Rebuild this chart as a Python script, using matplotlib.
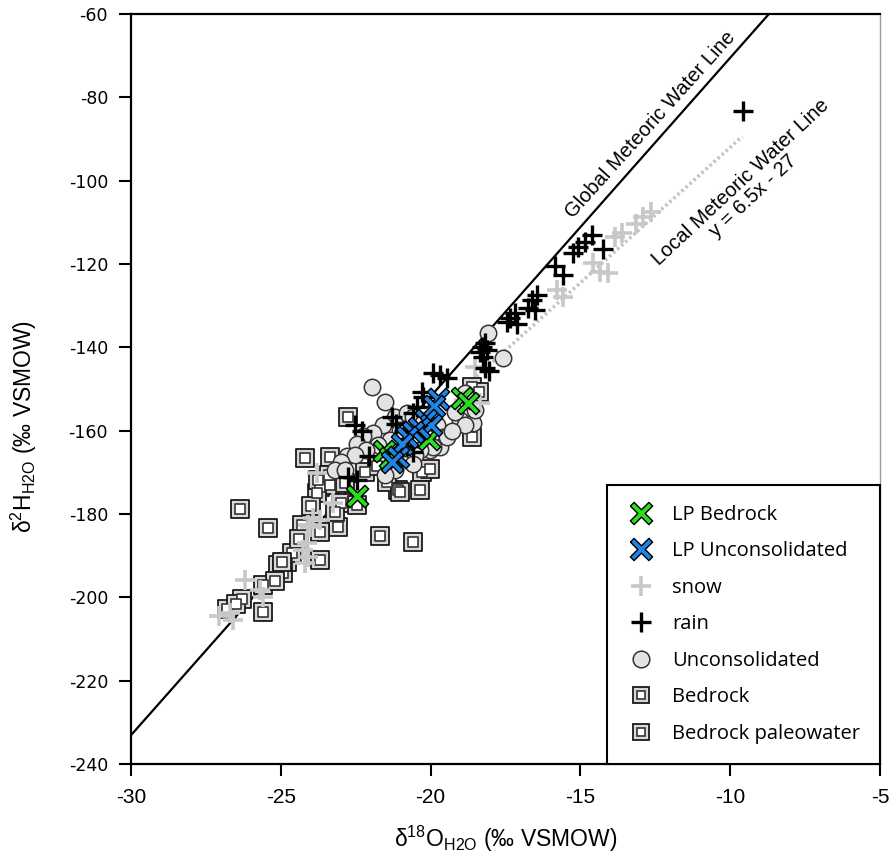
import numpy as np
import matplotlib
matplotlib.use("Agg")
import matplotlib.pyplot as plt
from matplotlib.lines import Line2D
from matplotlib.legend_handler import HandlerTuple

# isotope data, d18O (x) and d2H (y), per-mil VSMOW
lp_bedrock_x = [-22.45, -21.55, -21.35, -20.05, -18.95, -18.75]
lp_bedrock_y = [-175.8, -165.0, -166.5, -162.0, -152.2, -153.4]

lp_unconsol_x = [-19.75, -19.9, -20.15, -20.0, -20.4, -20.6, -20.8, -20.95, -21.1, -21.3]
lp_unconsol_y = [-152.5, -154.2, -157.4, -158.6, -159.3, -160.4, -161.6, -163.2, -166.3, -167.5]

snow_x = [-12.64, -12.91, -13.15, -13.6, -13.85, -14.58, -14.35, -14.08, -15.58, -15.78,
          -18.52, -18.9, -18.35, -23.79, -23.26, -24.03, -23.93, -24.09, -23.69, -24.13,
          -24.26, -24.09, -24.19, -26.2, -25.69, -25.6, -26.7, -26.6, -27.05]
snow_y = [-107.5, -108.7, -110.3, -112.5, -113.5, -119.8, -121.9, -122.2, -127.9, -126.2,
          -144.7, -152.6, -153.3, -170.2, -177.4, -183.1, -180.9, -182.6, -181.4, -187.0,
          -188.6, -190.3, -191.7, -195.8, -198.2, -199.9, -203.7, -205.4, -204.6]

rain_x = [-9.57, -14.61, -14.85, -15.08, -15.25, -14.25, -15.58, -15.85,
          -16.45, -16.62, -16.75, -16.5, -17.18, -17.35, -17.45, -17.1,
          -18.18, -18.28, -18.12, -18.35, -18.25, -18.18, -18.05,
          -19.92, -19.69, -19.45, -20.25, -20.45, -20.59, -20.3,
          -21.29, -22.52, -22.3, -22.05, -22.76, -22.45, -20.8, -20.6, -20.9, -21.15]
rain_y = [-83.3, -113.0, -114.7, -115.9, -117.4, -116.4, -122.6, -120.5,
          -127.4, -128.6, -130.6, -131.0, -131.8, -133.0, -133.9, -134.4,
          -139.0, -140.0, -140.7, -141.2, -142.4, -145.0, -145.8,
          -146.2, -146.6, -147.4, -151.9, -154.3, -155.8, -150.8,
          -156.7, -158.6, -160.0, -166.0, -171.1, -171.8, -163.8, -165.2, -160.2, -158.5]

unconsol_x = [-21.96, -21.52, -21.19, -21.6, -21.92, -22.26, -22.46, -22.8, -20.79, -20.59,
              -20.25, -19.79, -19.59, -19.69, -20.02, -18.58, -19.45, -19.02, -19.92, -18.08,
              -17.58, -18.85, -18.52, -19.19, -18.85, -21.02, -21.36, -21.76, -22.16, -22.52,
              -23.0, -23.2, -22.86, -20.85, -20.35, -20.52, -21.19, -21.52, -19.3, -20.6]
unconsol_y = [-149.5, -153.1, -156.7, -158.6, -160.5, -161.4, -163.3, -166.2, -155.8, -156.7,
              -158.2, -158.6, -161.5, -163.9, -164.6, -158.2, -161.5, -157.4, -163.9, -136.6,
              -142.6, -151.0, -155.0, -155.5, -158.6, -159.8, -162.2, -163.4, -164.6, -165.8,
              -167.5, -169.4, -169.4, -164.1, -164.6, -165.8, -169.4, -170.6, -160.0, -168.0]

bedrock_x = [-22.76, -24.19, -23.36, -20.29, -21.09, -20.02, -18.62, -18.4, -18.62,
             -23.69, -23.36, -23.8, -23.0, -23.09, -24.29, -23.69, -24.8, -25.09, -24.93,
             -24.63, -23.69, -23.76, -23.4, -22.86, -22.46, -21.45, -21.02, -20.35,
             -22.2, -21.8, -23.2, -24.4, -24.0]
bedrock_y = [-156.7, -166.6, -166.3, -169.9, -174.2, -169.3, -149.5, -150.8, -161.5,
             -173.5, -173.0, -175.0, -177.3, -183.1, -182.6, -184.3, -191.5, -192.2, -194.1,
             -189.4, -191.0, -171.8, -170.6, -172.6, -177.8, -172.3, -174.7, -174.2,
             -170.0, -168.4, -179.5, -186.0, -178.0]

paleo_x = [-26.36, -25.43, -21.69, -20.59, -24.96, -25.59, -26.3, -26.8, -25.6, -26.5, -25.2]
paleo_y = [-178.9, -183.4, -185.2, -186.7, -191.5, -197.0, -200.3, -202.8, -203.5, -201.5, -196.0]

lmwl_x = [-19.0, -9.6]

plt.rcParams["mathtext.default"] = "regular"
plt.rcParams["axes.unicode_minus"] = False

# thin-armed filled X marker
a = 0.2
plus = np.array([(-a, 1), (a, 1), (a, a), (1, a), (1, -a), (a, -a), (a, -1), (-a, -1),
                 (-a, -a), (-1, -a), (-1, a), (-a, a), (-a, 1)])
c, s = np.cos(np.pi / 4), np.sin(np.pi / 4)
xmark = plus @ np.array([[c, s], [-s, c]])

green = "#2bdc1f"
blue = "#2084e6"
snow_c = "#c8c8c8"

fig = plt.figure(figsize=(8.91, 8.58), dpi=100)
ax = fig.add_axes([0.147, 0.1096, 0.8407, 0.8741])

# meteoric water lines
gx = np.array([-30, -5])
ax.plot(gx, 8.13 * gx + 10.8, color="black", lw=1.6, zorder=2)
lx = np.array(lmwl_x)
ax.plot(lx, 6.5 * lx - 27, color="#c4c4c4", lw=2.6, ls=(0, (0.7, 0.8)), zorder=1)

ax.scatter(bedrock_x, bedrock_y, s=165, marker="s", facecolor="#d6d6d6", edgecolor="#1a1a1a", lw=1.3, zorder=3)
ax.scatter(bedrock_x, bedrock_y, s=48, marker="s", facecolor="white", edgecolor="#333333", lw=1.2, zorder=3)
ax.scatter(paleo_x, paleo_y, s=165, marker="s", facecolor="#dadada", edgecolor="#1a1a1a", lw=1.3, zorder=3)
ax.scatter(paleo_x, paleo_y, s=48, marker="s", facecolor="white", edgecolor="#333333", lw=1.2, zorder=3)
ax.scatter(unconsol_x, unconsol_y, s=140, marker="o", facecolor="#e3e3e3", edgecolor="#333333", lw=1.1, zorder=4)
ax.scatter(snow_x, snow_y, s=200, marker="+", color=snow_c, lw=2.6, zorder=5)
ax.scatter(rain_x, rain_y, s=200, marker="+", color="black", lw=2.4, zorder=6)
ax.scatter(lp_bedrock_x, lp_bedrock_y, s=260, marker=xmark, facecolor=green, edgecolor="black", lw=1.0, zorder=7)
ax.scatter(lp_unconsol_x, lp_unconsol_y, s=260, marker=xmark, facecolor=blue, edgecolor="black", lw=1.0, zorder=8)

ax.text(-12.65, -86.5, "Global Meteoric Water Line", rotation=48, rotation_mode="anchor",
        ha="center", va="center", fontsize=14.5, family="Liberation Sans", zorder=9)
ax.text(-9.45, -102.0, "Local Meteoric Water Line\ny = 6.5x - 27", rotation=43,
        rotation_mode="anchor", ha="center", va="center", multialignment="center",
        fontsize=14.5, family="Liberation Sans", linespacing=1.0, zorder=9)

ax.set_xlim(-30, -5)
ax.set_ylim(-240, -60)
ax.set_xticks(np.arange(-30, -4, 5))
ax.set_yticks(np.arange(-240, -59, 20))
ax.tick_params(direction="out", length=8.5, width=1.5, color="black")
for lab in ax.get_xticklabels():
    lab.set_family("Liberation Sans")
    lab.set_fontsize(15)
for lab in ax.get_yticklabels():
    lab.set_family("DejaVu Sans")
    lab.set_fontsize(12.5)
ax.tick_params(axis="x", pad=9)
ax.tick_params(axis="y", pad=8)
for side in ["left", "bottom", "top"]:
    ax.spines[side].set_linewidth(1.6)
    ax.spines[side].set_color("black")
ax.spines["right"].set_linewidth(1.0)
ax.spines["right"].set_color("#9a9a9a")

ax.set_xlabel("δ$^{18}$O$_{H2O}$ (‰ VSMOW)", family="Liberation Sans", fontsize=16.5, labelpad=12)
ax.set_ylabel("δ$^{2}$H$_{H2O}$ (‰ VSMOW)", family="Liberation Sans", fontsize=16.5)
ax.yaxis.set_label_coords(-0.123, 0.45)

# legend
h_green = Line2D([], [], ls="", marker=xmark, ms=16, mfc=green, mec="black", mew=1.0)
h_blue = Line2D([], [], ls="", marker=xmark, ms=16, mfc=blue, mec="black", mew=1.0)
h_snow = Line2D([], [], ls="", marker="+", ms=14, color=snow_c, mew=2.6)
h_rain = Line2D([], [], ls="", marker="+", ms=14, color="black", mew=2.4)
h_unc = Line2D([], [], ls="", marker="o", ms=12, mfc="#e3e3e3", mec="#333333", mew=1.1)
sq_out = Line2D([], [], ls="", marker="s", ms=12, mfc="#d6d6d6", mec="#1a1a1a", mew=1.3)
sq_in = Line2D([], [], ls="", marker="s", ms=6, mfc="white", mec="#333333", mew=1.2)
sq_out2 = Line2D([], [], ls="", marker="s", ms=12, mfc="#dadada", mec="#1a1a1a", mew=1.3)
leg = ax.legend([h_green, h_blue, h_snow, h_rain, h_unc, (sq_out, sq_in), (sq_out2, sq_in)],
                ["LP Bedrock", "LP Unconsolidated", "snow", "rain", "Unconsolidated",
                 "Bedrock", "Bedrock paleowater"],
                handler_map={tuple: HandlerTuple(ndivide=1)},
                loc="lower right", borderaxespad=0, fancybox=False, frameon=True,
                edgecolor="black", framealpha=1, prop={"family": "Open Sans", "size": 14.5},
                handlelength=1.3, handletextpad=0.9, labelspacing=0.82, borderpad=1.0)
leg.get_frame().set_linewidth(1.5)
leg.set_zorder(10)

fig.savefig("out.png", dpi=100)
